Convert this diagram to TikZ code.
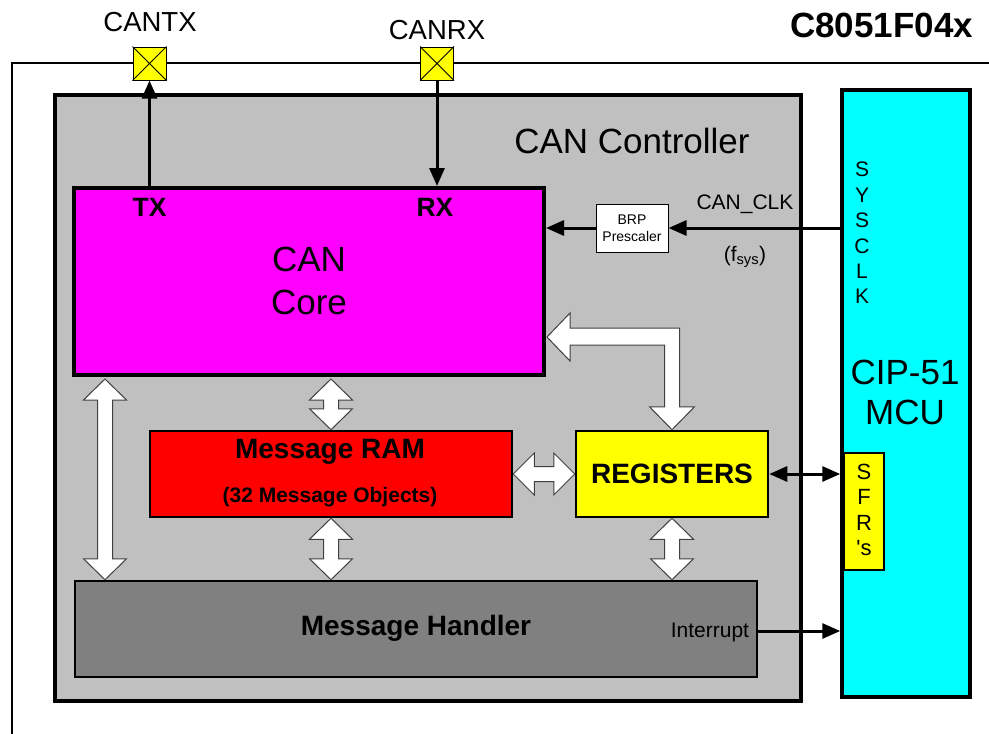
\documentclass[tikz,border=0pt]{standalone}
\usepackage{fontspec}
\setmainfont{Liberation Sans}
\usetikzlibrary{arrows.meta,calc}
\definecolor{ctrlgray}{HTML}{C0C0C0}
\definecolor{mhgray}{HTML}{808080}
\definecolor{coremag}{HTML}{FF00FF}
\definecolor{ramred}{HTML}{FF0000}
\definecolor{regyel}{HTML}{FFFF00}
\definecolor{mcucyan}{HTML}{00FFFF}
\tikzset{
  box/.style={draw, rectangle, inner sep=0pt, anchor=center},
  sig/.style={line width=3pt, -{Triangle[length=18pt,width=15pt]}},
  sigboth/.style={line width=3pt, {Triangle[length=18pt,width=15pt]}-{Triangle[length=18pt,width=15pt]}},
  blk/.style={draw=black!75, fill=white, line width=1pt, line join=miter},
  pinbox/.style={box, fill=regyel, line width=1pt, minimum width=33pt, minimum height=33pt},
  txt/.style={inner sep=0pt, anchor=center},
}
\newcommand{\vblk}[2]{\path[blk] let \p1=#1, \p2=#2 in
  (\x1,\y1) -- ++(21.5pt,-21pt) -- ++(-14pt,0pt) -- (\x1+7.5pt,\y2+21pt) -- ++(14pt,0pt)
  -- (\x1,\y2) -- ++(-21.5pt,21pt) -- ++(14pt,0pt) -- (\x1-7.5pt,\y1-21pt) -- ++(-14pt,0pt) -- cycle;}
\newcommand{\hblk}[2]{\path[blk] let \p1=#1, \p2=#2 in
  (\x1,\y1) -- ++(21pt,21pt) -- ++(0pt,-13.5pt) -- (\x2-21pt,\y1+7.5pt) -- ++(0pt,13.5pt)
  -- (\x2,\y1) -- ++(-21pt,-21pt) -- ++(0pt,13.5pt) -- (\x1+21pt,\y1-7.5pt) -- ++(0pt,-13.5pt) -- cycle;}
\begin{document}
\begin{tikzpicture}[x=1pt,y=-1pt]
\useasboundingbox (0,0) rectangle (989,734);
% outer frame
\draw[line width=2pt] (12,734) -- (12,63) -- (989,63);
% pins
\node[pinbox] (cantx) at (149.5,63.5) {};
\node[pinbox] (canrx) at (437,63.5) {};
\foreach \p in {cantx,canrx}{
  \draw[line width=0.8pt] (\p.north west) -- (\p.south east) (\p.north east) -- (\p.south west);
}
\node[txt, font=\fontsize{27.5}{30}\selectfont] (lcantx) at (150,22) {CANTX};
\node[txt, font=\fontsize{27.5}{30}\selectfont] (lcanrx) at (437,30) {CANRX};
\node[txt, font=\fontsize{35}{40}\selectfont\bfseries] (chip) at (881.5,25) {C8051F04x};
% CAN controller
\node[box, fill=ctrlgray, line width=3.5pt, minimum width=746pt, minimum height=606pt] (ctrl) at (428,398) {};
\node[txt, font=\fontsize{35}{40}\selectfont] (ctrltitle) at (632,141) {CAN Controller};
% MCU
\node[box, fill=mcucyan, line width=3.5pt, minimum width=128pt, minimum height=607pt] (mcu) at (906,393.5) {};
\node[txt, align=center, font=\fontsize{21}{25.4}\selectfont] (sysclk) at (862,233) {S\\Y\\S\\C\\L\\K};
\node[txt, align=center, font=\fontsize{35}{40}\selectfont] (mcutxt) at (905,392) {CIP-51\\MCU};
\node[box, fill=regyel, line width=1.5pt, minimum width=40pt, minimum height=117pt] (sfr) at (864,511.5) {};
\node[txt, align=center, font=\fontsize{22}{25.5}\selectfont] (sfrtxt) at (864,510) {S\\F\\R\\\textquotesingle s};
% CAN core
\node[box, fill=coremag, line width=4pt, minimum width=470pt, minimum height=187pt] (core) at (309,281.5) {};
\node[txt, align=center, font=\fontsize{35}{43}\selectfont] (coretxt) at (309,281) {CAN\\Core};
\node[txt, font=\fontsize{26.5}{30}\selectfont\bfseries] (tx) at (149.5,207.5) {TX};
\node[txt, font=\fontsize{26.5}{30}\selectfont\bfseries] (rx) at (435,207.5) {RX};
% message RAM
\node[box, fill=ramred, line width=2.5pt, minimum width=362pt, minimum height=86pt] (ram) at (331,474) {};
\node[txt, font=\fontsize{28}{30}\selectfont\bfseries] (ramt1) at (330,452) {Message RAM};
\node[txt, font=\fontsize{21}{24}\selectfont\bfseries] (ramt2) at (330,497) {(32 Message Objects)};
% registers
\node[box, fill=regyel, line width=2.5pt, minimum width=192pt, minimum height=86pt, font=\fontsize{28}{30}\selectfont\bfseries] (regs) at (672,474) {REGISTERS};
% message handler
\node[box, fill=mhgray, line width=2.5pt, minimum width=682pt, minimum height=96pt] (mh) at (416,629) {};
\node[txt, font=\fontsize{28}{30}\selectfont\bfseries] (mhtxt) at (416,628) {Message Handler};
\node[txt, anchor=east, font=\fontsize{21}{24}\selectfont] (intr) at ([xshift=-9pt,yshift=-3pt]mh.east) {Interrupt};
% BRP prescaler
\node[box, fill=white, line width=1pt, minimum width=72pt, minimum height=48pt, align=center, font=\fontsize{14}{17}\selectfont] (brp) at (632,228) {BRP\\Prescaler};
\node[txt, font=\fontsize{21}{24}\selectfont] (canclk) at (745,204.5) {CAN\_CLK};
\node[txt, font=\fontsize{21}{24}\selectfont] (fsys) at (745,257) {(f\textsubscript{sys})};
% helper coordinates
\coordinate (intsrc) at ([yshift=-2pt]mh.east);
\coordinate (crtop) at ([yshift=-2pt]core.south -| ram.north);
\coordinate (cmtop) at ([xshift=33pt,yshift=-2pt]core.south west);
\coordinate (cmbot) at ([xshift=32pt]mh.north west);
\coordinate (ltip) at ([xshift=1pt,yshift=40pt]core.south east);
% signal connectors
\draw[sig] (core.north -| cantx) -- (cantx.south);
\draw[sig] (canrx.south) -- (canrx |- core.north);
\draw[sig] (mcu.west |- brp) -- (brp.east);
\draw[sig] (brp.west) -- (core.east |- brp);
\draw[sigboth] (regs.east) -- (mcu.west |- regs);
\draw[sig] (intsrc) -- (mcu.west |- intsrc);
% block arrows
\vblk{(cmtop)}{(cmbot)}
\vblk{(crtop)}{(ram.north)}
\vblk{(ram.south)}{(ram.south |- mh.north)}
\hblk{(ram.east)}{(regs.west)}
\vblk{(regs.south)}{(regs.south |- mh.north)}
\path[blk] let \p1=(ltip), \p2=(regs.north) in
  (\x1,\y1) -- (\x1+23pt,\y1+24pt) -- (\x1+23pt,\y1+9pt) -- (\x2+7.5pt,\y1+9pt)
  -- (\x2+7.5pt,\y2+23pt) -- (\x2+22.5pt,\y2+23pt) -- (\x2,\y2) -- (\x2-22.5pt,\y2+23pt)
  -- (\x2-7.5pt,\y2+23pt) -- (\x2-7.5pt,\y1-8pt) -- (\x1+23pt,\y1-8pt) -- (\x1+23pt,\y1-24pt) -- cycle;
\end{tikzpicture}
\end{document}
